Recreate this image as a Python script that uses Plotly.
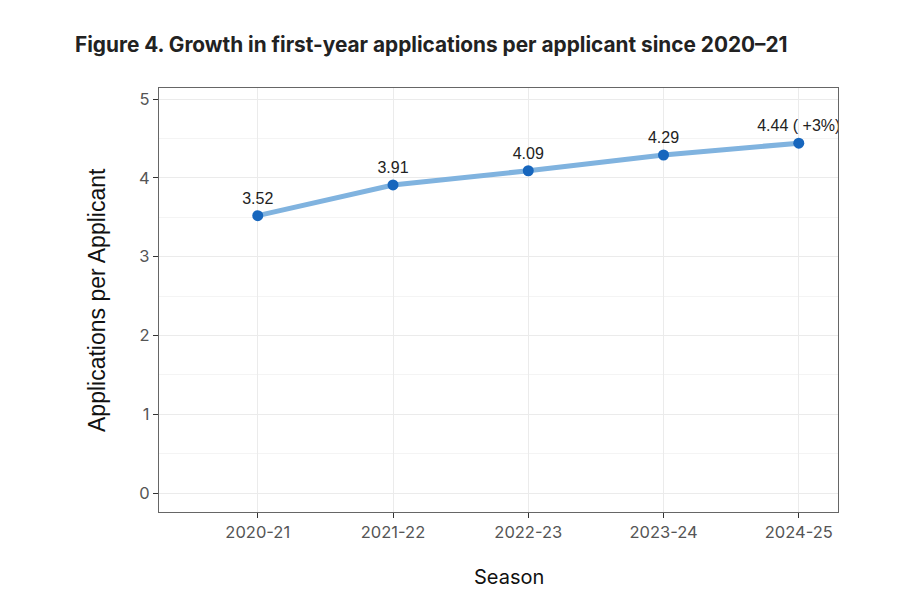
import plotly.graph_objects as go

seasons = ["2020-21", "2021-22", "2022-23", "2023-24", "2024-25"]
apps_per_applicant = [3.52, 3.91, 4.09, 4.29, 4.44]
point_labels = ["3.52", "3.91", "4.09", "4.29", "4.44 ( +3%)"]
y_ticks = [0, 1, 2, 3, 4, 5]

L, R, T, B = 151, 74, 80, 99
W, H = 904, 603
PW, PH = W - L - R, H - T - B

fig = go.Figure()
fig.add_trace(go.Scatter(
    x=seasons, y=apps_per_applicant, mode="lines",
    line=dict(color="#80b3df", width=5), hoverinfo="skip", showlegend=False))
fig.add_trace(go.Scatter(
    x=seasons, y=apps_per_applicant, mode="markers+text",
    marker=dict(color="#1766bd", size=11),
    text=point_labels, textposition="top center",
    textfont=dict(family="Liberation Sans, Arial", size=16, color="#222222"),
    showlegend=False))

fig.add_annotation(text="Applications per Applicant", textangle=-90,
                   xref="paper", yref="paper", x=(89 - L) / PW, y=0.5,
                   xanchor="center", yanchor="middle", showarrow=False,
                   font=dict(family="Liberation Sans, Arial", size=23, color="#111111"))
fig.add_annotation(text="Season",
                   xref="paper", yref="paper", x=(501 - L) / PW, y=1 - (569 - T) / PH,
                   xanchor="center", yanchor="middle", showarrow=False,
                   font=dict(family="Inter, Roboto", size=20, color="#111111"))

tickfont = dict(family="Inter, Roboto", size=16.5, color="#555555")
fig.update_layout(
    width=W, height=H,
    margin=dict(l=L, r=R, t=T, b=B),
    paper_bgcolor="white", plot_bgcolor="white",
    title=dict(text="<b>Figure 4. Growth in first-year applications per applicant since 2020\u201321</b>",
               x=67 / W, xanchor="left", y=1 - 37 / H, yanchor="middle",
               font=dict(family="Inter, Roboto", size=20.8, color="#222222")),
    xaxis=dict(type="category", range=[-0.73, 4.29],
               showgrid=True, gridcolor="#ebebeb", gridwidth=1.2,
               showline=True, linecolor="#666666", linewidth=1.3, mirror=True,
               ticks="outside", ticklen=5, tickcolor="#333333",
               tickfont=tickfont, zeroline=False),
    yaxis=dict(range=[-0.24, 5.14], tickvals=y_ticks,
               showgrid=True, gridcolor="#ebebeb", gridwidth=1.2,
               minor=dict(dtick=0.5, showgrid=True, gridcolor="#f4f4f4", gridwidth=0.8),
               showline=True, linecolor="#666666", linewidth=1.3, mirror=True,
               ticks="outside", ticklen=5, tickcolor="#333333",
               tickfont=tickfont, zeroline=False),
)

fig.write_html("out.html")
